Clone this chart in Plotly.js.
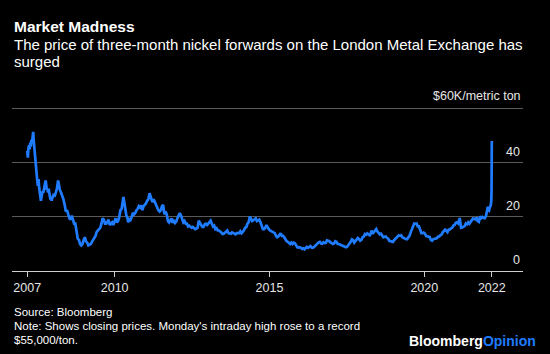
<!DOCTYPE html>
<html>
<head>
<meta charset="utf-8">
<script src="https://cdn.plot.ly/plotly-3.0.1.min.js"></script>
<style>
  html, body { margin: 0; padding: 0; background: #000; }
  #chart { width: 550px; height: 354px; }
</style>
</head>
<body>
<div id="chart"></div>
<script>
// Three-month LME nickel, closing price, thousands of $/metric ton
const dates = [
  "2007-03-07","2007-03-14","2007-03-21","2007-03-28","2007-04-04","2007-04-11","2007-04-18","2007-04-25",
  "2007-05-02","2007-05-09","2007-05-16","2007-05-23","2007-05-30","2007-06-06","2007-06-13","2007-06-20",
  "2007-06-27","2007-07-04","2007-07-11","2007-07-18","2007-07-25","2007-08-01","2007-08-08","2007-08-15",
  "2007-08-22","2007-08-29","2007-09-05","2007-09-12","2007-09-19","2007-09-26","2007-10-03","2007-10-10",
  "2007-10-17","2007-10-24","2007-10-31","2007-11-07","2007-11-14","2007-11-21","2007-11-28","2007-12-05",
  "2007-12-12","2007-12-19","2007-12-27",
  "2008-01-09","2008-01-23","2008-02-06","2008-02-20","2008-03-05","2008-03-12","2008-03-19","2008-03-26",
  "2008-04-09","2008-04-23","2008-05-07","2008-05-21","2008-06-04","2008-06-18","2008-07-02","2008-07-16",
  "2008-07-30","2008-08-13","2008-08-27","2008-09-10","2008-09-24","2008-10-08","2008-10-22","2008-11-05",
  "2008-11-19","2008-12-03","2008-12-17","2008-12-31",
  "2009-01-14","2009-01-28","2009-02-11","2009-02-25","2009-03-11","2009-03-25","2009-04-08","2009-04-22",
  "2009-05-06","2009-05-20","2009-06-03","2009-06-17","2009-07-01","2009-07-15","2009-07-29","2009-08-12",
  "2009-08-26","2009-09-09","2009-09-23","2009-10-07","2009-10-21","2009-11-04","2009-11-18","2009-12-02",
  "2009-12-16","2009-12-30",
  "2010-01-13","2010-01-27","2010-02-10","2010-02-24","2010-03-10","2010-03-24","2010-04-07","2010-04-14",
  "2010-04-21","2010-05-05","2010-05-19","2010-06-02","2010-06-09","2010-06-23","2010-07-07","2010-07-21",
  "2010-08-04","2010-08-18","2010-09-01","2010-09-15","2010-09-29","2010-10-13","2010-10-27","2010-11-10",
  "2010-11-24","2010-12-08","2010-12-22",
  "2011-01-05","2011-01-19","2011-02-02","2011-02-16","2011-02-23","2011-03-09","2011-03-23","2011-04-06",
  "2011-04-20","2011-05-04","2011-05-18","2011-06-01","2011-06-15","2011-06-29","2011-07-13","2011-07-27",
  "2011-08-10","2011-08-24","2011-09-07","2011-09-21","2011-10-05","2011-10-19","2011-11-02","2011-11-16",
  "2011-11-30","2011-12-14","2011-12-28",
  "2012-01-11","2012-01-25","2012-02-08","2012-02-22","2012-03-07","2012-03-21","2012-04-04","2012-04-18",
  "2012-05-02","2012-05-16","2012-05-30","2012-06-13","2012-06-27","2012-07-11","2012-07-25","2012-08-08",
  "2012-08-22","2012-09-05","2012-09-19","2012-10-03","2012-10-17","2012-10-31","2012-11-14","2012-11-28",
  "2012-12-12","2012-12-27",
  "2013-01-09","2013-01-23","2013-02-06","2013-02-20","2013-03-06","2013-03-20","2013-04-03","2013-04-17",
  "2013-05-01","2013-05-15","2013-05-29","2013-06-12","2013-06-26","2013-07-10","2013-07-24","2013-08-07",
  "2013-08-21","2013-09-04","2013-09-18","2013-10-02","2013-10-16","2013-10-30","2013-11-13","2013-11-27",
  "2013-12-11","2013-12-24",
  "2014-01-08","2014-01-22","2014-02-05","2014-02-19","2014-03-05","2014-03-19","2014-04-02","2014-04-16",
  "2014-04-30","2014-05-14","2014-05-28","2014-06-11","2014-06-25","2014-07-09","2014-07-23","2014-08-06",
  "2014-08-20","2014-09-03","2014-09-17","2014-10-01","2014-10-15","2014-10-29","2014-11-12","2014-11-26",
  "2014-12-10","2014-12-24",
  "2015-01-07","2015-01-21","2015-02-04","2015-02-18","2015-03-04","2015-03-18","2015-04-01","2015-04-15",
  "2015-04-29","2015-05-13","2015-05-27","2015-06-10","2015-06-24","2015-07-08","2015-07-22","2015-08-05",
  "2015-08-19","2015-09-02","2015-09-16","2015-09-30","2015-10-14","2015-10-28","2015-11-11","2015-11-25",
  "2015-12-09","2015-12-23",
  "2016-01-06","2016-01-20","2016-02-03","2016-02-17","2016-03-02","2016-03-16","2016-03-30","2016-04-13",
  "2016-04-27","2016-05-11","2016-05-25","2016-06-08","2016-06-22","2016-07-06","2016-07-20","2016-08-03",
  "2016-08-17","2016-08-31","2016-09-14","2016-09-28","2016-10-12","2016-10-26","2016-11-09","2016-11-23",
  "2016-12-07","2016-12-21",
  "2017-01-04","2017-01-18","2017-02-01","2017-02-15","2017-03-01","2017-03-15","2017-03-29","2017-04-12",
  "2017-04-26","2017-05-10","2017-05-24","2017-06-07","2017-06-21","2017-07-05","2017-07-19","2017-08-02",
  "2017-08-16","2017-08-30","2017-09-13","2017-09-27","2017-10-11","2017-10-25","2017-11-08","2017-11-22",
  "2017-12-06","2017-12-20",
  "2018-01-03","2018-01-17","2018-01-31","2018-02-14","2018-02-28","2018-03-14","2018-03-28","2018-04-11",
  "2018-04-18","2018-05-02","2018-05-16","2018-05-30","2018-06-13","2018-06-27","2018-07-11","2018-07-25",
  "2018-08-08","2018-08-22","2018-09-05","2018-09-19","2018-10-03","2018-10-17","2018-10-31","2018-11-14",
  "2018-11-28","2018-12-12","2018-12-27",
  "2019-01-09","2019-01-23","2019-02-06","2019-02-20","2019-03-06","2019-03-20","2019-04-03","2019-04-17",
  "2019-05-01","2019-05-15","2019-05-29","2019-06-12","2019-06-26","2019-07-10","2019-07-24","2019-08-07",
  "2019-08-21","2019-09-04","2019-09-18","2019-10-02","2019-10-16","2019-10-30","2019-11-13","2019-11-27",
  "2019-12-11","2019-12-24",
  "2020-01-08","2020-01-22","2020-02-05","2020-02-19","2020-03-04","2020-03-18","2020-04-01","2020-04-15",
  "2020-04-29","2020-05-13","2020-05-27","2020-06-10","2020-06-24","2020-07-08","2020-07-22","2020-08-05",
  "2020-08-19","2020-09-02","2020-09-16","2020-09-30","2020-10-14","2020-10-28","2020-11-11","2020-11-25",
  "2020-12-09","2020-12-23",
  "2021-01-06","2021-01-20","2021-02-03","2021-02-17","2021-02-22","2021-03-03","2021-03-10","2021-03-24",
  "2021-04-07","2021-04-21","2021-05-05","2021-05-19","2021-06-02","2021-06-16","2021-06-30","2021-07-14",
  "2021-07-28","2021-08-11","2021-08-25","2021-09-08","2021-09-22","2021-10-06","2021-10-20","2021-11-03",
  "2021-11-17","2021-12-01","2021-12-15","2021-12-29",
  "2022-01-12","2022-01-19","2022-01-26","2022-02-02","2022-02-09","2022-02-16","2022-02-23","2022-03-01",
  "2022-03-03","2022-03-04","2022-03-07"
];
const prices = [
  44.5,42.0,45.5,46.5,45.0,47.5,46.0,48.5,
  47.5,50.5,51.5,48.0,45.0,43.0,40.0,38.0,
  36.0,33.0,31.5,34.0,31.0,29.0,27.5,26.0,
  27.5,28.5,29.5,29.0,31.0,31.5,32.5,33.5,
  31.0,30.0,30.5,29.0,30.5,28.5,27.0,26.5,
  27.0,26.0,27.0,
  28.0,27.5,29.0,30.5,33.5,31.5,30.0,30.0,
  29.0,28.0,26.5,24.5,22.0,22.5,21.0,19.5,
  19.0,20.5,19.0,17.5,17.5,14.5,12.0,11.5,
  10.0,9.5,10.0,11.5,
  12.5,11.0,10.5,9.5,9.7,10.0,10.8,11.5,
  12.5,13.0,14.5,15.0,15.5,16.0,17.5,19.5,
  19.0,17.5,17.5,18.5,19.0,17.0,17.5,18.0,
  17.0,18.5,
  19.5,18.0,18.5,20.0,22.5,23.0,25.5,27.4,
  26.0,23.0,20.5,19.5,18.0,19.5,19.0,20.0,
  21.5,21.0,21.5,22.5,23.0,24.0,23.5,24.3,
  22.5,24.0,24.5,
  25.0,26.0,26.5,28.8,28.0,26.5,25.5,26.5,
  25.5,24.5,23.0,22.5,22.0,22.5,24.0,24.5,
  21.0,22.0,21.0,18.5,18.0,19.0,19.5,17.8,
  18.5,17.8,18.3,
  19.5,20.5,21.5,20.5,18.8,18.0,18.5,17.5,
  17.5,16.5,16.8,16.5,16.0,16.3,15.8,15.5,
  15.7,16.0,18.6,18.0,17.0,16.3,16.3,17.3,
  17.5,17.0,
  17.5,17.8,18.6,17.5,16.5,16.8,15.5,15.8,
  15.0,15.0,14.8,14.3,13.7,13.8,14.2,14.5,
  15.0,14.0,14.0,13.8,14.3,14.0,13.8,13.6,
  14.0,14.0,
  14.0,14.7,14.0,14.5,15.0,16.0,16.2,17.5,
  18.0,20.2,19.5,18.5,18.8,19.0,19.5,18.5,
  18.8,19.0,18.0,16.5,15.5,15.5,16.0,17.0,
  16.0,15.5,
  15.0,14.8,14.5,14.2,14.0,13.0,12.5,12.8,
  13.5,14.0,13.0,13.0,12.5,11.5,11.0,10.8,
  10.5,10.0,10.5,10.0,10.5,10.3,9.5,8.8,
  8.7,8.8,
  8.6,8.2,8.4,8.0,8.5,8.9,8.6,9.0,
  9.2,8.7,8.6,8.8,9.3,10.0,10.5,10.6,
  10.8,10.2,10.1,10.6,10.3,10.4,11.3,11.2,
  11.0,10.6,
  10.2,10.0,10.2,11.0,10.8,10.0,10.0,9.8,
  9.3,9.2,9.0,8.9,8.8,9.0,9.5,10.2,
  10.8,11.7,11.5,10.5,11.2,11.5,12.2,11.8,
  11.2,11.5,
  12.5,12.7,13.7,13.5,13.9,13.5,13.2,14.0,
  15.0,13.8,14.3,15.0,15.5,14.6,14.0,13.6,
  13.8,13.2,12.5,12.7,12.8,12.3,12.0,11.2,
  11.0,11.0,10.8,
  11.4,11.8,12.3,12.8,13.2,13.0,13.2,12.5,
  12.2,12.0,11.8,11.8,12.5,13.0,14.3,15.5,
  16.0,17.6,17.5,17.6,16.5,16.5,15.3,14.0,
  14.0,14.2,
  13.8,13.0,12.8,12.7,12.6,11.5,11.2,11.8,
  12.0,12.2,12.1,12.7,12.8,13.2,13.5,14.3,
  15.0,15.3,14.9,14.4,15.3,15.4,15.8,16.0,
  16.8,17.0,
  17.8,18.0,17.6,19.0,19.6,17.5,16.0,16.1,
  16.4,16.6,17.6,17.3,18.0,17.5,18.2,18.8,
  19.4,19.3,19.1,19.8,18.5,18.2,20.3,19.6,
  20.0,19.6,19.5,20.4,
  22.5,23.8,22.6,22.4,23.3,24.0,24.4,26.0,
  28.0,29.7,48.08
];
const xTickVals = ["2007-03-07", "2010-01-01", "2015-01-01", "2020-01-01", "2022-03-07"];
const xTickText = ["2007", "2010", "2015", "2020", "2022"];
const yTickVals = [0, 20, 40, 60];
const yTickText = ["0", "20", "40", "$60K/metric ton"];

const W = 550, H = 354, L = 12, R = 27, T = 90, B = 83;
const pw = W - L - R, ph = H - T - B;
const px = x => (x - L) / pw;
const py = y => (H - B - y) / ph;
const FONT = "Liberation Sans, Arial, Helvetica, sans-serif";
const BLUE = "#1f7cff";
const LABEL = "#e6e6e6";

const trace = {
  x: dates, y: prices, type: "scatter", mode: "lines",
  line: { color: BLUE, width: 2.7 },
  hoverinfo: "skip"
};

const ann = (text, x, y, size, opts) => Object.assign({
  text: text, xref: "paper", yref: "paper", x: px(x), y: py(y),
  xanchor: "left", yanchor: "middle", showarrow: false,
  font: { family: FONT, size: size, color: "#ffffff" }
}, opts || {});

// the top gridline's label is long, so it is drawn as an annotation on that gridline
const lastY = yTickVals.length - 1;
const yTickTextShown = yTickText.map((t, i) => (i === lastY ? "" : t));

const layout = {
  width: W, height: H,
  margin: { l: L, r: R, t: T, b: B, pad: 0 },
  paper_bgcolor: "#000000", plot_bgcolor: "#000000",
  showlegend: false,
  font: { family: FONT, color: LABEL },
  xaxis: {
    type: "date", range: ["2006-09-08", "2023-03-10"],
    tickmode: "array", tickvals: xTickVals, ticktext: xTickText,
    ticks: "outside", ticklen: 5, tickwidth: 1, tickcolor: "#cccccc",
    showgrid: false, zeroline: false, showline: false,
    tickfont: { size: 12.5, color: LABEL, family: FONT }
  },
  yaxis: {
    range: [0, 67], side: "right",
    tickmode: "array", tickvals: yTickVals, ticktext: yTickTextShown,
    ticklabelposition: "inside top", ticks: "", ticklabelshift: -3,
    showgrid: true, gridcolor: "#5a5a5a", gridwidth: 1,
    zeroline: true, zerolinecolor: "#cfcfcf", zerolinewidth: 1,
    showline: false,
    tickfont: { size: 12.5, color: LABEL, family: FONT }
  },
  annotations: [
    {
      text: yTickText[lastY], xref: "paper", yref: "y", x: 1, y: yTickVals[lastY],
      xanchor: "right", yanchor: "bottom", yshift: 3.5, showarrow: false,
      font: { family: FONT, size: 12.5, color: LABEL }
    },
    ann("<b>Market Madness</b>", 12, 26, 15.5),
    ann("The price of three-month nickel forwards on the London Metal Exchange has", 12, 44.5, 15),
    ann("surged", 12, 61.5, 15),
    ann("Source: Bloomberg", 12, 311.5, 11.5),
    ann("Note: Shows closing prices. Monday's intraday high rose to a record", 12, 325.5, 11.5),
    ann("$55,000/ton.", 12, 340, 11.5),
    ann("<b>Bloomberg<span style='color:" + BLUE + "'>Opinion</span></b>", 538, 341, 14, { xanchor: "right" })
  ]
};

Plotly.newPlot("chart", [trace], layout, { staticPlot: true, displayModeBar: false });
</script>
</body>
</html>
